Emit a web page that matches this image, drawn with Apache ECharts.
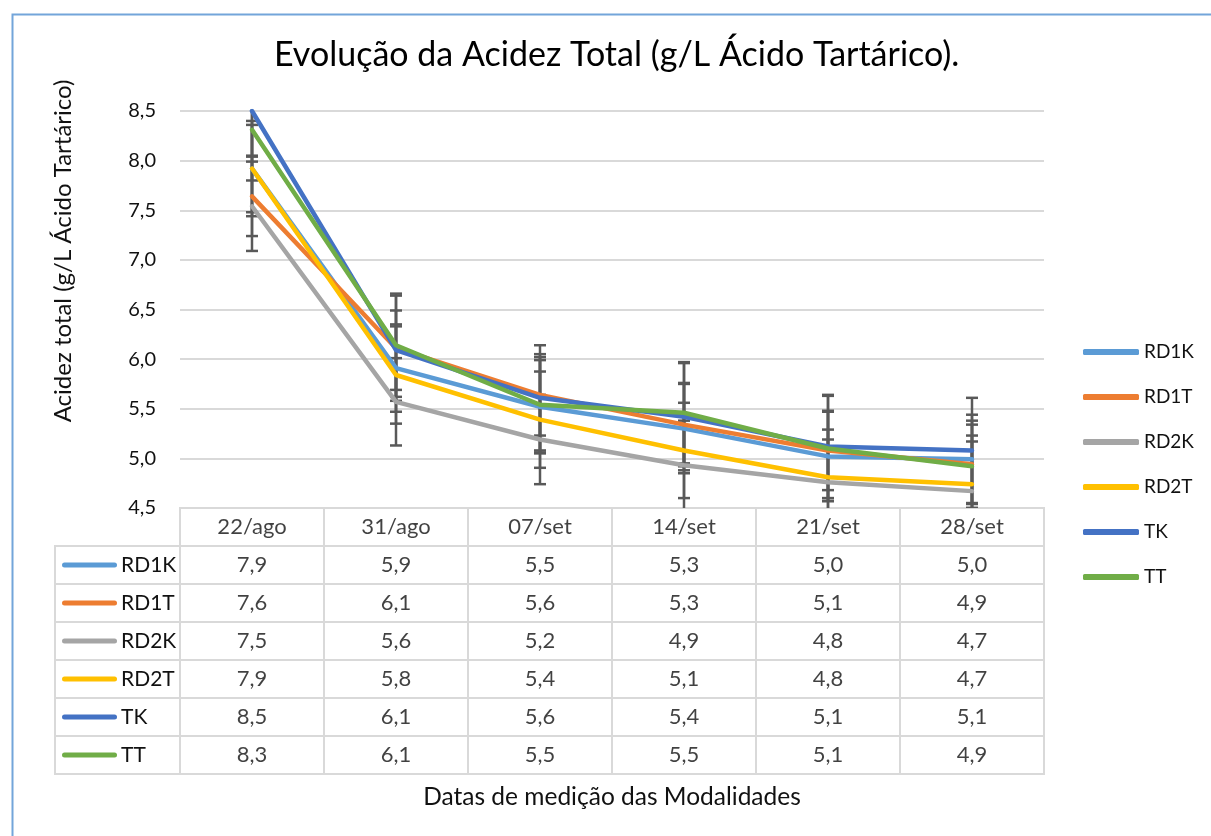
<!DOCTYPE html>
<html>
<head>
<meta charset="utf-8">
<script src="https://cdn.jsdelivr.net/npm/echarts@6/dist/echarts.min.js"></script>
<style>
  html, body { margin: 0; padding: 0; background: #fff; }
  #chart { width: 1211px; height: 836px; }
</style>
</head>
<body>
<div id="chart"></div>
<script>
// datas de medição
const categories = ['22/ago', '31/ago', '07/set', '14/set', '21/set', '28/set']
const seriesNames = ['RD1K', 'RD1T', 'RD2K', 'RD2T', 'TK', 'TT']
const colors = ['#5B9BD5', '#ED7D31', '#A5A5A5', '#FFC000', '#4472C4', '#70AD47']

// acidez total (g/L ácido tartárico)
const RD1K = [7.92, 5.91, 5.52, 5.30, 5.02, 4.99]
const RD1T = [7.64, 6.11, 5.64, 5.34, 5.08, 4.94]
const RD2K = [7.54, 5.57, 5.19, 4.93, 4.76, 4.67]
const RD2T = [7.92, 5.84, 5.39, 5.08, 4.81, 4.74]
const TK = [8.50, 6.09, 5.61, 5.42, 5.12, 5.08]
const TT = [8.31, 6.14, 5.54, 5.46, 5.10, 4.92]

// barras de erro (+/-)
const errRD1K = [0.48, 0.44, 0.47, 0.45, 0.45, 0.45]
const errRD1T = [0.40, 0.53, 0.41, 0.42, 0.40, 0.44]
const errRD2K = [0.45, 0.44, 0.45, 0.45, 0.53, 0.50]
const errRD2T = [0.44, 0.49, 0.485, 0.48, 0.38, 0.49]
const errTK = [0.45, 0.40, 0.53, 0.54, 0.52, 0.53]
const errTT = [0.51, 0.52, 0.48, 0.51, 0.53, 0.42]

const yTicks = [4.5, 5.0, 5.5, 6.0, 6.5, 7.0, 7.5, 8.0, 8.5]

const values = [RD1K, RD1T, RD2K, RD2T, TK, TT]
const errors = [errRD1K, errRD1T, errRD2K, errRD2T, errTK, errTT]

const fmt = (v) => v.toFixed(1).replace('.', ',')
const font = 'Lato'
const txt = '#111'
const gridLine = '#d9d9d9'

const chart = echarts.init(document.getElementById('chart'))

const series = []
// barras de erro
values.forEach((vals, s) => {
  series.push({
    type: 'custom',
    name: seriesNames[s] + '_err',
    xAxisIndex: 0,
    yAxisIndex: 0,
    z: 1,
    clip: true,
    silent: true,
    data: vals.map((v, i) => [i, v, errors[s][i]]),
    encode: { x: 0, y: 1 },
    renderItem: (params, api) => {
      const x = api.value(0)
      const v = api.value(1)
      const e = api.value(2)
      const top = api.coord([x, v + e])
      const bot = api.coord([x, v - e])
      const hw = 6
      const st = { stroke: '#595959', lineWidth: 2.5 }
      return {
        type: 'group',
        children: [
          { type: 'line', shape: { x1: top[0], y1: top[1], x2: bot[0], y2: bot[1] }, style: st },
          { type: 'line', shape: { x1: top[0] - hw, y1: top[1], x2: top[0] + hw, y2: top[1] }, style: st },
          { type: 'line', shape: { x1: bot[0] - hw, y1: bot[1], x2: bot[0] + hw, y2: bot[1] }, style: st }
        ]
      }
    }
  })
})
// linhas
values.forEach((vals, s) => {
  series.push({
    type: 'line',
    name: seriesNames[s],
    xAxisIndex: 0,
    yAxisIndex: 0,
    z: 3,
    showSymbol: false,
    symbol: 'none',
    color: colors[s],
    lineStyle: { width: 4.5, color: colors[s], cap: 'round', join: 'round' },
    data: vals
  })
})
// tabela de dados: cabeçalho
series.push({
  type: 'scatter',
  xAxisIndex: 1,
  yAxisIndex: 1,
  symbolSize: 0,
  silent: true,
  label: { show: true, position: 'inside', color: txt, fontSize: 22, fontFamily: font, formatter: (p) => p.value[0] },
  data: categories.map((c) => [c, 'hdr'])
})
// tabela de dados: valores
series.push({
  type: 'scatter',
  xAxisIndex: 1,
  yAxisIndex: 1,
  symbolSize: 0,
  silent: true,
  label: { show: true, position: 'inside', color: txt, fontSize: 22, fontFamily: font, formatter: (p) => fmt(p.value[2]) },
  data: values.flatMap((vals, s) => vals.map((v, i) => [categories[i], seriesNames[s], v]))
})

const rich = { t: { fontSize: 21, fontFamily: font, color: txt, padding: [0, 0, 0, 4] } }
colors.forEach((c, i) => {
  rich['k' + i] = { backgroundColor: c, width: 55, height: 5, borderRadius: 3 }
})

chart.setOption({
  textStyle: { fontFamily: font },
  animation: false,
  title: {
    text: 'Evolução da Acidez Total (g/L Ácido Tartárico).',
    left: 274,
    top: 38,
    padding: 0,
    textStyle: { fontFamily: font, fontSize: 34, fontWeight: 'normal', color: '#000' }
  },
  legend: {
    data: seriesNames,
    orient: 'vertical',
    left: 1078,
    top: 335,
    itemWidth: 56,
    itemHeight: 6,
    itemGap: 21,
    icon: 'roundRect',
    textStyle: { fontSize: 19, fontFamily: font, color: txt, lineHeight: 24 }
  },
  graphic: [
    {
      type: 'rect',
      left: 10,
      top: 12,
      shape: { width: 1300, height: 900 },
      style: { fill: 'none', stroke: '#73A5DA', lineWidth: 2 },
      silent: true
    },
    {
      type: 'text',
      x: 63,
      y: 251,
      rotation: Math.PI / 2,
      style: {
        text: 'Acidez total (g/L Ácido Tartárico)',
        fontSize: 24,
        fontFamily: font,
        fill: txt,
        align: 'center',
        verticalAlign: 'middle'
      },
      silent: true
    }
  ],
  grid: [
    { left: 180, top: 111, width: 864, height: 397 },
    { left: 180, top: 508, width: 864, height: 266, show: true, borderColor: gridLine, borderWidth: 2 },
    { left: 55, top: 546, width: 125, height: 228, show: true, borderColor: gridLine, borderWidth: 2 }
  ],
  xAxis: [
    {
      type: 'category',
      gridIndex: 0,
      data: categories,
      boundaryGap: true,
      axisLine: { show: false },
      axisTick: { show: false },
      axisLabel: { show: false },
      splitLine: { show: false }
    },
    {
      type: 'category',
      gridIndex: 1,
      data: categories,
      boundaryGap: true,
      axisLine: { show: false },
      axisTick: { show: false },
      axisLabel: { show: false },
      splitLine: { show: true, lineStyle: { color: gridLine, width: 2 } },
      name: 'Datas de medição das Modalidades',
      nameLocation: 'middle',
      nameGap: 11,
      nameTextStyle: { fontSize: 24.5, fontFamily: font, color: txt }
    },
    {
      type: 'value',
      gridIndex: 2,
      min: 0,
      max: 1,
      show: false
    }
  ],
  yAxis: [
    {
      type: 'value',
      gridIndex: 0,
      min: yTicks[0],
      max: yTicks[yTicks.length - 1],
      interval: 0.5,
      axisLine: { show: false },
      axisTick: { show: false },
      axisLabel: { margin: 24, fontSize: 20, fontFamily: font, color: txt, formatter: (v) => fmt(v) },
      splitLine: { lineStyle: { color: gridLine, width: 2 } }
    },
    {
      type: 'category',
      gridIndex: 1,
      data: ['hdr'].concat(seriesNames),
      inverse: true,
      axisLine: { show: false },
      axisTick: { show: false },
      axisLabel: { show: false },
      splitLine: { show: true, lineStyle: { color: gridLine, width: 2 } }
    },
    {
      type: 'category',
      gridIndex: 2,
      data: seriesNames,
      inverse: true,
      axisLine: { show: false },
      axisTick: { show: false },
      axisLabel: {
        inside: true,
        margin: 7,
        align: 'left',
        formatter: (v, i) => '{k' + i + '|}{t|' + v + '}',
        rich: rich
      },
      splitLine: { show: true, lineStyle: { color: gridLine, width: 2 } }
    }
  ],
  series: series
})
</script>
</body>
</html>
